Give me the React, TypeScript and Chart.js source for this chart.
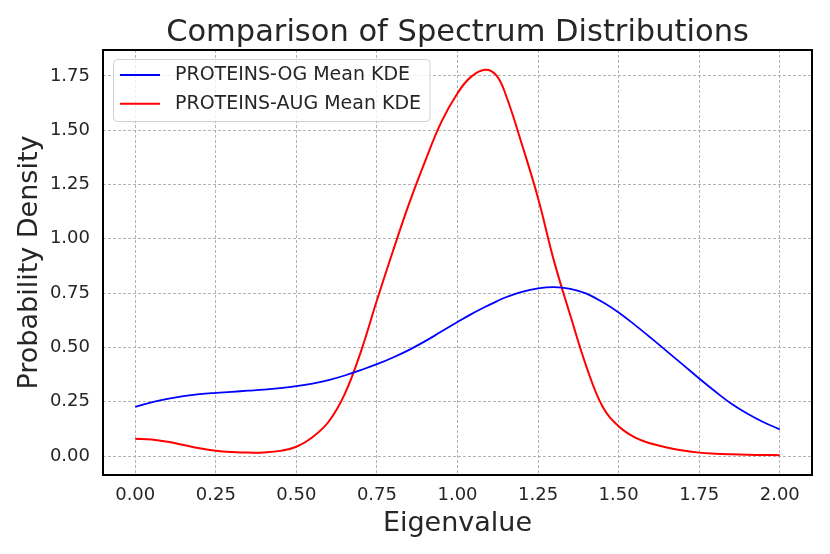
import { useEffect, useRef } from "react";
import { Chart, registerables } from "chart.js";

Chart.register(...registerables);

const titleText = "Comparison of Spectrum Distributions";
const xTitle = "Eigenvalue";
const yTitle = "Probability Density";
const ogLabel = "PROTEINS-OG Mean KDE";
const augLabel = "PROTEINS-AUG Mean KDE";

const xValues = [
  0, 0.05, 0.1, 0.15, 0.2, 0.25, 0.3, 0.35, 0.4, 0.45, 0.5, 0.55, 0.6, 0.65, 0.7, 0.75, 0.8, 0.85, 0.9, 0.95, 1.0,
  1.04, 1.085, 1.12, 1.15, 1.2, 1.25, 1.3, 1.35, 1.4, 1.45, 1.5, 1.55, 1.6, 1.65, 1.7, 1.75, 1.8, 1.85, 1.9, 1.95, 2.0,
];
const ogValues = [
  0.227, 0.247, 0.263, 0.276, 0.285, 0.291, 0.296, 0.301, 0.306, 0.313, 0.322, 0.334, 0.35, 0.371, 0.396, 0.423,
  0.454, 0.489, 0.529, 0.573, 0.617, 0.651, 0.686, 0.711, 0.731, 0.756, 0.772, 0.778, 0.77, 0.748, 0.709, 0.661,
  0.604, 0.544, 0.482, 0.42, 0.357, 0.297, 0.241, 0.195, 0.156, 0.123,
];
const augValues = [
  0.08, 0.076, 0.066, 0.051, 0.036, 0.025, 0.019, 0.016, 0.017, 0.024, 0.043, 0.087, 0.158, 0.285, 0.48, 0.717,
  0.945, 1.163, 1.359, 1.538, 1.67, 1.743, 1.778, 1.753, 1.662, 1.434, 1.187, 0.895, 0.648, 0.412, 0.228, 0.137,
  0.086, 0.058, 0.04, 0.026, 0.016, 0.011, 0.008, 0.006, 0.005, 0.004,
];
const xTicks = [0, 0.25, 0.5, 0.75, 1.0, 1.25, 1.5, 1.75, 2.0];
const yTicks = [0, 0.25, 0.5, 0.75, 1.0, 1.25, 1.5, 1.75];

const FONT = "'DejaVu Sans', sans-serif";
const TEXT = "#262626";

const framePlugin = {
  id: "frameAndLegend",
  afterDraw(chart: any) {
    const { ctx, chartArea } = chart;
    const { left, top, right, bottom } = chartArea;
    ctx.save();
    ctx.strokeStyle = "#000000";
    ctx.lineWidth = 2;
    ctx.strokeRect(left, top, right - left, bottom - top);

    // legend
    const bx = 113.5;
    const by = 59.5;
    const bw = 316.5;
    const bh = 62;
    ctx.beginPath();
    ctx.roundRect(bx, by, bw, bh, 4);
    ctx.fillStyle = "rgba(255,255,255,0.8)";
    ctx.fill();
    ctx.strokeStyle = "#d0d0d0";
    ctx.lineWidth = 1;
    ctx.stroke();
    const rows = [75, 103.7];
    chart.data.datasets.forEach((ds: any, i: number) => {
      const y = rows[i];
      ctx.beginPath();
      ctx.strokeStyle = ds.borderColor;
      ctx.lineWidth = ds.borderWidth;
      ctx.moveTo(120, y);
      ctx.lineTo(160, y);
      ctx.stroke();
      ctx.fillStyle = TEXT;
      ctx.font = `19px ${FONT}`;
      ctx.textBaseline = "middle";
      ctx.textAlign = "left";
      ctx.fillText(ds.label, 175, y + 0.5);
    });
    ctx.restore();
  },
};

export default function App() {
  const canvasRef = useRef<HTMLCanvasElement | null>(null);

  useEffect(() => {
    document.body.style.margin = "0";
    const canvas = canvasRef.current;
    if (!canvas) return;
    const chart = new Chart(canvas, {
      type: "line",
      data: {
        datasets: [
          {
            label: ogLabel,
            data: xValues.map((x, i) => ({ x, y: ogValues[i] })),
            borderColor: "#0000ff",
            borderWidth: 1.8,
            pointRadius: 0,
            fill: false,
            tension: 0.4,
          },
          {
            label: augLabel,
            data: xValues.map((x, i) => ({ x, y: augValues[i] })),
            borderColor: "#ff0000",
            borderWidth: 2,
            pointRadius: 0,
            fill: false,
            tension: 0.4,
          },
        ],
      },
      options: {
        responsive: false,
        animation: false,
        layout: { padding: { left: 0, right: 18, top: 0, bottom: 0 } },
        plugins: {
          legend: { display: false },
          tooltip: { enabled: false },
          title: {
            display: true,
            text: titleText,
            fullSize: false,
            color: TEXT,
            font: { family: FONT, size: 30.5, weight: "normal", lineHeight: 1 },
            padding: { top: 18, bottom: 1.5 },
          },
        },
        scales: {
          x: {
            type: "linear",
            min: -0.1,
            max: 2.1,
            afterBuildTicks: (scale: any) => {
              scale.ticks = xTicks.map((v) => ({ value: v }));
            },
            afterFit: (scale: any) => {
              scale.height = 79;
            },
            ticks: {
              color: TEXT,
              font: { family: FONT, size: 18 },
              padding: 10,
              maxRotation: 0,
              autoSkip: false,
              callback: (v: any) => Number(v).toFixed(2),
            },
            grid: {
              color: "#a0a0a0",
              lineWidth: 0.8,
              drawTicks: false,
            },
            border: { display: false, dash: [3, 2] },
            title: {
              display: true,
              text: xTitle,
              color: TEXT,
              font: { family: FONT, size: 27, lineHeight: 1 },
              padding: { top: 0, bottom: 17 },
            },
          },
          y: {
            type: "linear",
            min: -0.087,
            max: 1.869,
            afterBuildTicks: (scale: any) => {
              scale.ticks = yTicks.map((v) => ({ value: v }));
            },
            afterFit: (scale: any) => {
              scale.width = 103;
            },
            ticks: {
              color: TEXT,
              font: { family: FONT, size: 18 },
              padding: 13,
              autoSkip: false,
              callback: (v: any) => Number(v).toFixed(2),
            },
            grid: {
              color: "#a0a0a0",
              lineWidth: 0.8,
              drawTicks: false,
            },
            border: { display: false, dash: [3, 2] },
            title: {
              display: true,
              text: yTitle,
              color: TEXT,
              font: { family: FONT, size: 27, lineHeight: 1 },
              padding: { top: 16, bottom: 0 },
            },
          },
        },
      },
      plugins: [framePlugin],
    });
    return () => chart.destroy();
  }, []);

  return (
    <div style={{ position: "absolute", left: 0, top: 0, width: 830, height: 554, background: "#ffffff" }}>
      <canvas ref={canvasRef} width={830} height={554} style={{ width: 830, height: 554 }} />
    </div>
  );
}
